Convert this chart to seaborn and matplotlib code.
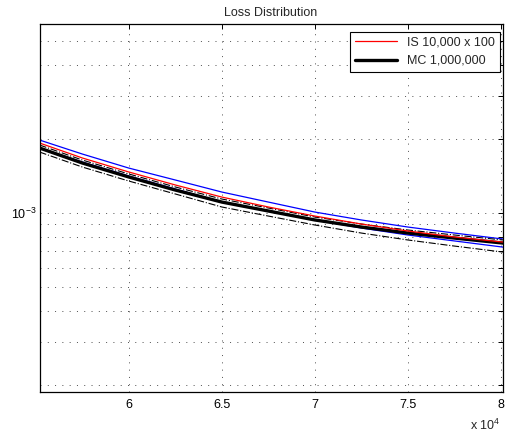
import numpy as np
import pandas as pd
import seaborn as sns
import matplotlib.pyplot as plt
from matplotlib.ticker import FixedLocator, FuncFormatter, LogLocator, NullFormatter

# loss levels (x) and tail probabilities (values in units of 1e-3)
loss = [55200, 57500, 60000, 62500, 65000, 67500, 70000, 72500, 75000, 77500, 80100]
mc_est = [1.838, 1.597, 1.401, 1.240, 1.108, 1.019, 0.937, 0.877, 0.829, 0.791, 0.755]
mc_hi = [1.890, 1.642, 1.441, 1.276, 1.140, 1.048, 0.963, 0.902, 0.853, 0.814, 0.777]
mc_lo = [1.770, 1.538, 1.349, 1.195, 1.058, 0.972, 0.894, 0.829, 0.777, 0.734, 0.694]
is_est = [1.926, 1.674, 1.468, 1.300, 1.161, 1.058, 0.972, 0.902, 0.845, 0.799, 0.762]
is_hi = [1.980, 1.737, 1.523, 1.362, 1.217, 1.108, 1.009, 0.937, 0.877, 0.829, 0.784]
is_lo = [1.838, 1.612, 1.414, 1.252, 1.108, 1.019, 0.937, 0.869, 0.814, 0.770, 0.727]

x = np.array(loss)
scale = 1e-3

sns.set_style("white")
plt.rcParams['font.family'] = ['Liberation Sans', 'DejaVu Sans']
plt.rcParams['font.size'] = 9

fig = plt.figure(figsize=(5.1, 4.44), dpi=100)
ax = fig.add_axes([0.0775, 0.1171, 0.9078, 0.8282])

sns.lineplot(x=x, y=np.array(is_hi) * scale, ax=ax, color='blue', lw=0.9)
sns.lineplot(x=x, y=np.array(is_lo) * scale, ax=ax, color='blue', lw=0.9)
sns.lineplot(x=x, y=np.array(mc_hi) * scale, ax=ax, color='black', lw=0.8, linestyle='-.')
sns.lineplot(x=x, y=np.array(mc_lo) * scale, ax=ax, color='black', lw=0.8, linestyle='-.')
sns.lineplot(x=x, y=np.array(mc_est) * scale, ax=ax, color='black', lw=2.4)
sns.lineplot(x=x, y=np.array(is_est) * scale, ax=ax, color='red', lw=0.9)

ax.set_yscale('log')
ax.set_xlim(55200, 80080)
ax.set_ylim(1.873e-4, 5.85e-3)

ax.yaxis.set_major_locator(FixedLocator([1e-3]))
ax.yaxis.set_major_formatter(FuncFormatter(lambda v, p: r'$\mathregular{10^{-3}}$'))
ax.yaxis.set_minor_locator(LogLocator(base=10, subs=np.arange(2, 10)))
ax.yaxis.set_minor_formatter(NullFormatter())

ax.xaxis.set_major_locator(FixedLocator([60000, 65000, 70000, 75000, 80000]))
ax.xaxis.set_major_formatter(FuncFormatter(lambda v, p: f'{v / 1e4:g}'))

grid_ls = (0, (1, 6.5))
ax.grid(True, which='major', axis='both', color='0.3', linestyle=grid_ls, lw=0.7)
ax.grid(True, which='minor', axis='y', color='0.3', linestyle=grid_ls, lw=0.7)

ax.tick_params(which='both', direction='in', top=True, right=True, length=3.5,
               width=0.7, colors='black', labelsize=9)
ax.tick_params(axis='x', pad=5)
ax.tick_params(axis='y', pad=2)
for s in ax.spines.values():
    s.set_color('black')
    s.set_linewidth(0.9)

ax.text(0.962, -0.09, r'x $\mathregular{10^4}$', transform=ax.transAxes,
        ha='center', va='center', fontsize=9)
ax.set_title('Loss Distribution', fontsize=9, pad=6)
ax.set_xlabel('')
ax.set_ylabel('')

h1, = ax.plot([], [], color='red', lw=0.9)
h2, = ax.plot([], [], color='black', lw=2.4)
leg = ax.legend([h1, h2], ['IS 10,000 x 100', 'MC 1,000,000'], loc='upper right',
                bbox_to_anchor=(0.995, 0.98), borderaxespad=0, fancybox=False,
                edgecolor='black', framealpha=1, handlelength=3.4, fontsize=9,
                labelspacing=0.5)
leg.get_frame().set_linewidth(0.8)

fig.savefig('out.png', dpi=100)
